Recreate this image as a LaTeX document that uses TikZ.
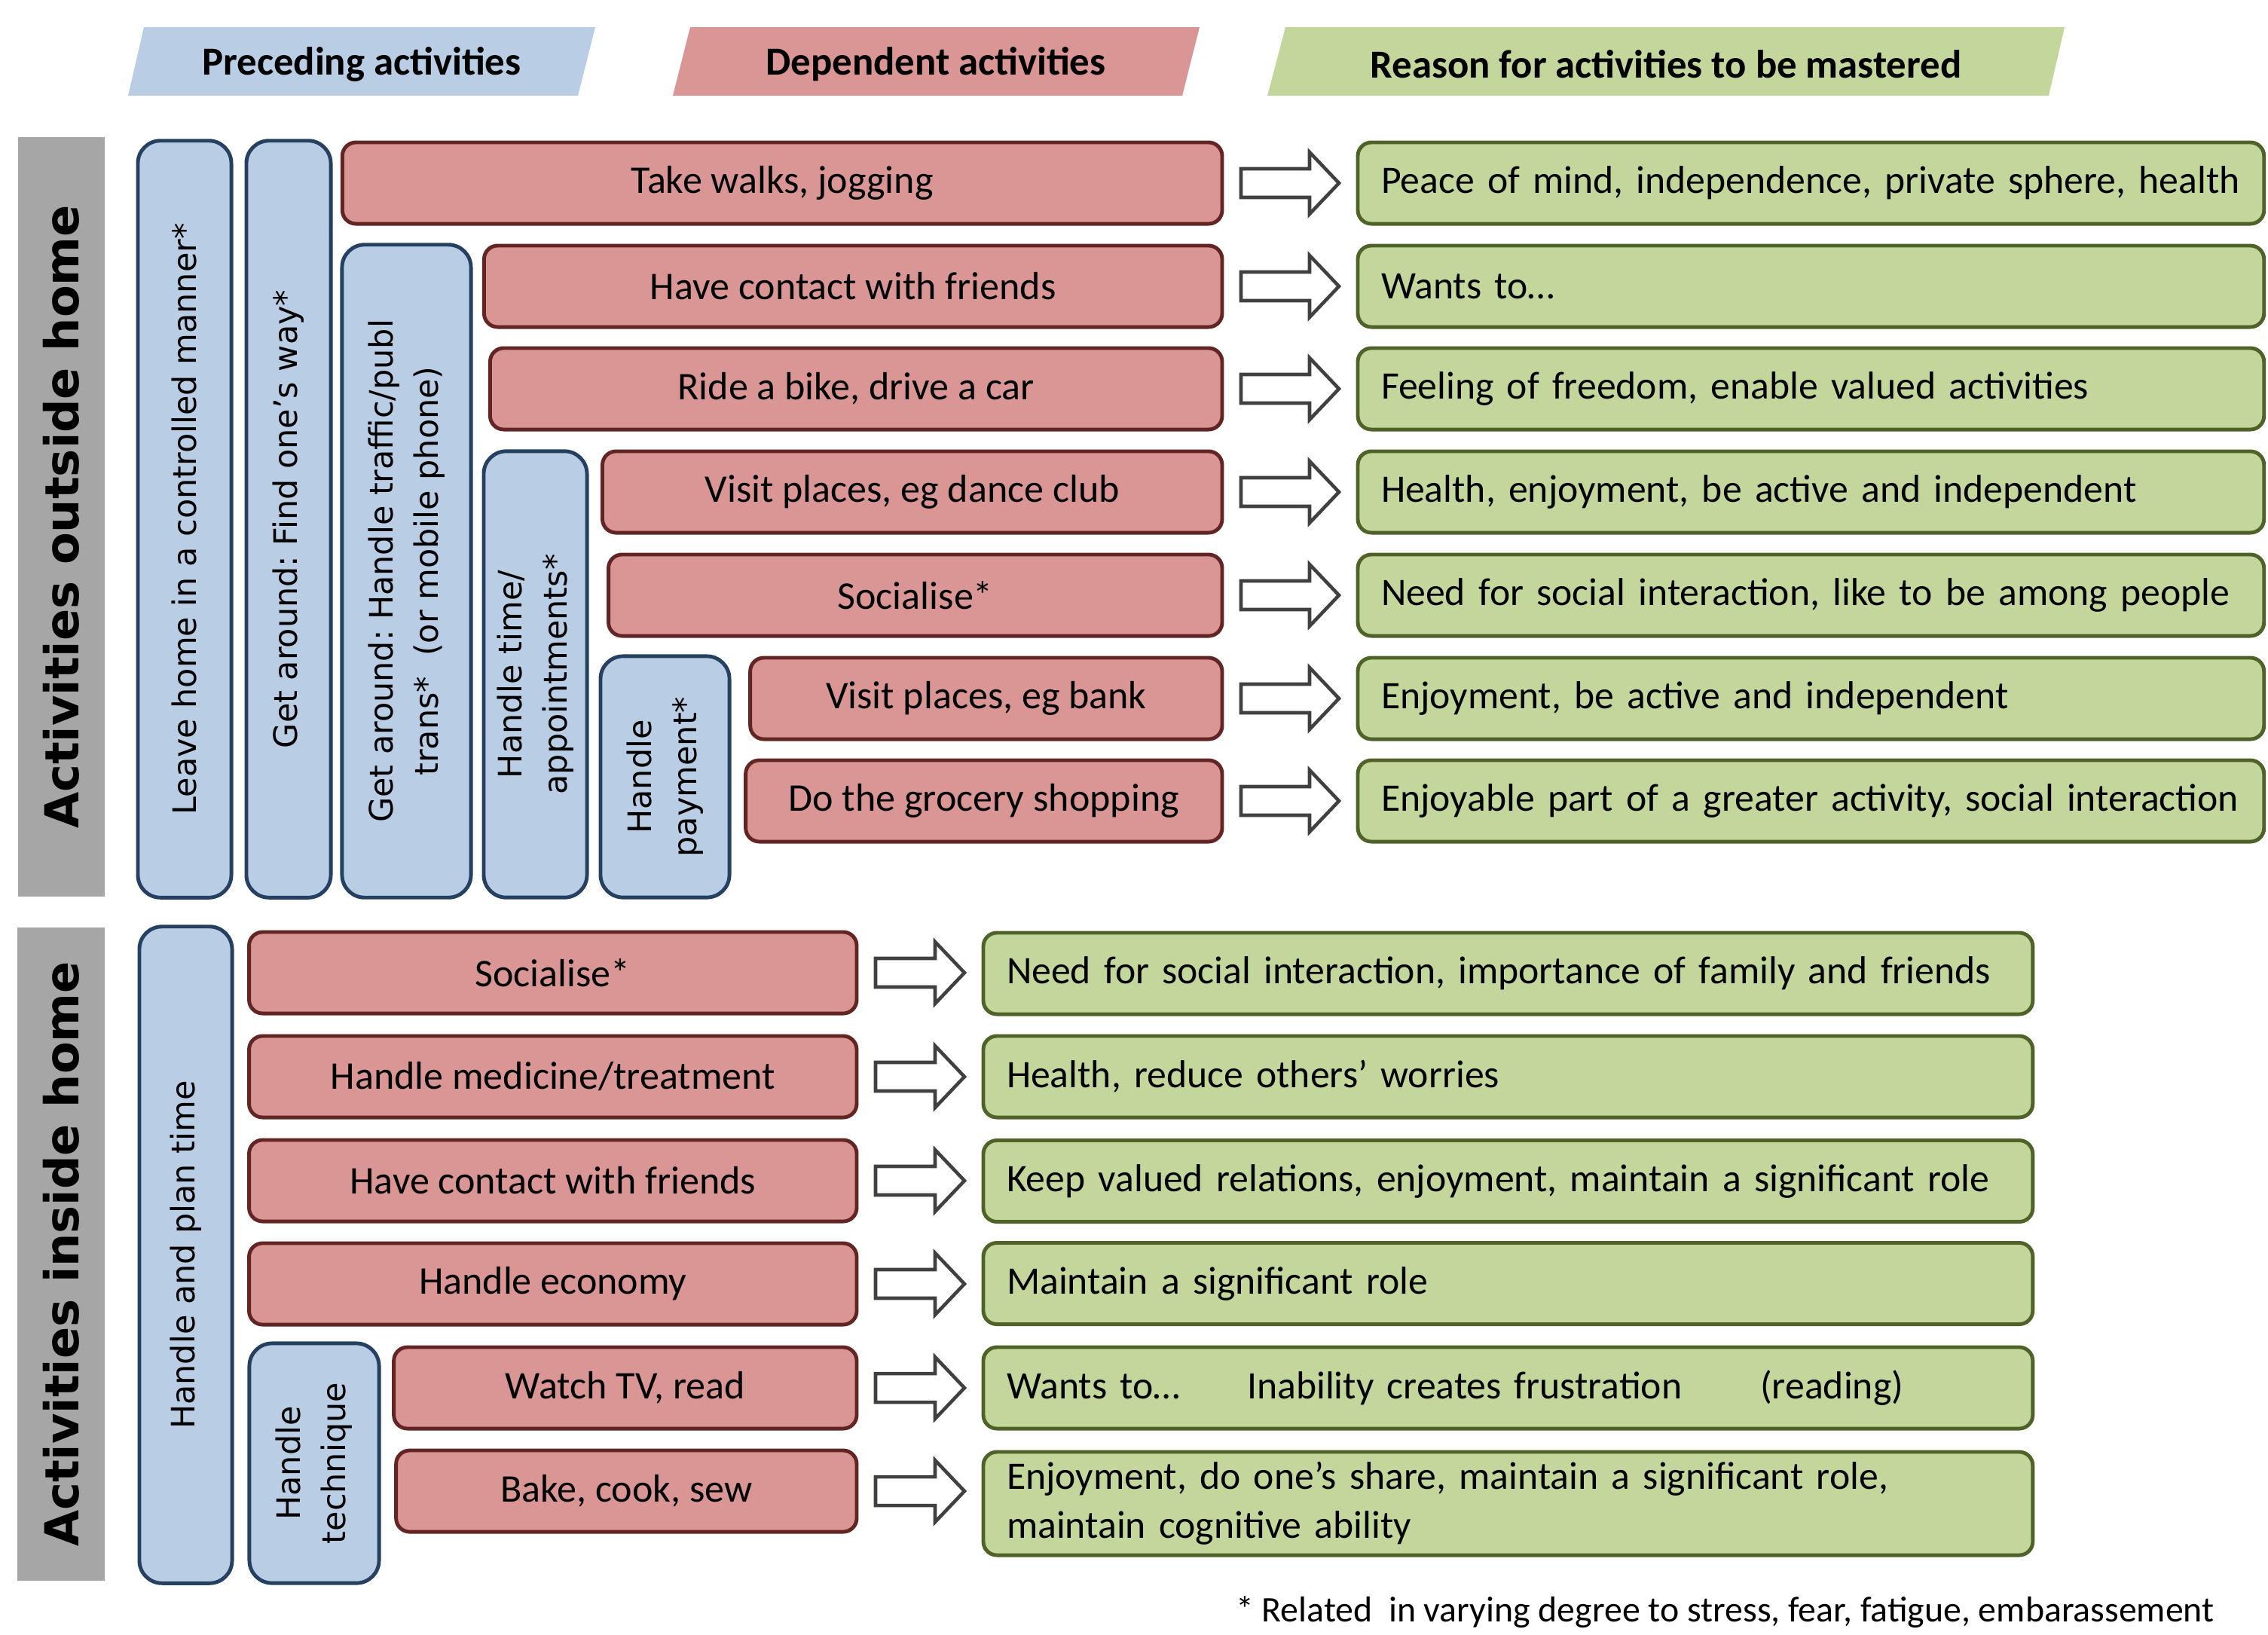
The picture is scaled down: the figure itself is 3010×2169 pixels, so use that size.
\documentclass[tikz,border=0pt]{standalone}
\usepackage{fontspec}
\setmainfont{Carlito}
\newfontfamily\verdface{DejaVu Sans}
\usetikzlibrary{calc,positioning}
\definecolor{precfill}{HTML}{B9CDE5}
\definecolor{precline}{HTML}{254061}
\definecolor{depfill}{HTML}{D99694}
\definecolor{depline}{HTML}{632523}
\definecolor{reasfill}{HTML}{C3D69B}
\definecolor{reasline}{HTML}{4F6228}
\definecolor{sidegrey}{HTML}{A6A6A6}
\definecolor{arrline}{HTML}{404040}
\frenchspacing

\begin{document}
\begin{tikzpicture}[x=0.01cm, y=-0.01cm,
    every node/.style={inner sep=0pt, outer sep=0pt},
    headtxt/.style={font=\fontsize{15}{18}\selectfont\bfseries},
    sidelab/.style={fill=sidegrey, rotate=90, font=\verdface\fontsize{17.7}{21}\selectfont\bfseries},
    prec/.style={draw=precline, fill=precfill, line width=1.4pt, rounded corners=0.3cm, rotate=90, align=center, font=\verdface\fontsize{12.2}{17}\selectfont},
    dep/.style={draw=depline, fill=depfill, line width=1.4pt, rounded corners=0.18cm, anchor=east, minimum height=1.08cm, minimum width=#1, font=\fontsize{14.8}{17.8}\selectfont},
    reas/.style={draw=reasline, fill=reasfill, line width=1.4pt, rounded corners=0.18cm, anchor=west, minimum height=1.08cm, text width=#1, inner xsep=0.31cm, align=left, font=\fontsize{14.7}{18.5}\selectfont},
    blockarr/.style={draw=arrline, fill=white, line width=1.3pt, line join=miter}]
  \useasboundingbox (0,0) rectangle (3010,2169);

  % column headers
  \fill[precfill] (170,127) -- (191,36) -- (790,36) -- (767,127) -- cycle;
  \node[headtxt] (hprec) at (480,85) {Preceding activities};
  \fill[depfill] (893,127) -- (916,36) -- (1592,36) -- (1569,127) -- cycle;
  \node[headtxt] (hdep) at (1242,85) {Dependent activities};
  \fill[reasfill] (1682,127) -- (1706,36) -- (2740,36) -- (2719,127) -- cycle;
  \node[headtxt] (hreas) at (2211,85) {Reason for activities to be mastered};

  % side labels
  \node[sidelab, minimum width=10.08cm, minimum height=1.15cm] (outlab) at (81.5,686) {Activities outside home};
  \node[sidelab, minimum width=8.67cm, minimum height=1.16cm] (inlab) at (81,1664.5) {Activities inside home};

  % preceding activities
  \node[prec, minimum width=10.04cm, minimum height=1.24cm] (pre1) at (245,689) {Leave home in a controlled manner*};
  \node[prec, minimum width=10.04cm, minimum height=1.12cm] (pre2) at (383,689) {Get around: Find one’s way*};
  \node[prec, minimum width=8.66cm, minimum height=1.71cm] (pre3) at (539.5,758) {Get around: Handle traffic/publ\\trans*\ \ (or mobile phone)};
  \node[prec, minimum width=5.92cm, minimum height=1.37cm] (pre4) at (710.5,895) {Handle time/\\appointments*};
  \node[prec, minimum width=3.20cm, minimum height=1.71cm] (pre5) at (882.5,1031) {Handle\\payment*};
  \node[prec, minimum width=8.71cm, minimum height=1.23cm] (pre6) at (246.5,1665.5) {Handle and plan time};
  \node[prec, minimum width=3.18cm, minimum height=1.72cm] (pre7) at (417,1942) {Handle\\technique};

  % dependent activities, outside home
  \node[dep=11.67cm] (dep1) at (1622,243) {Take walks, jogging};
  \node[dep=9.79cm] (dep2) at (1622,380) {Have contact with friends};
  \node[dep=9.71cm] (dep3) at (1622,516) {Ride a bike, drive a car};
  \node[dep=8.22cm] (dep4) at (1622,653) {Visit places, eg dance club};
  \node[dep=8.14cm] (dep5) at (1622,790) {Socialise*};
  \node[dep=6.26cm] (dep6) at (1622,927) {Visit places, eg bank};
  \node[dep=6.32cm] (dep7) at (1622,1063) {Do the grocery shopping};
  % dependent activities, inside home
  \node[dep=8.06cm] (dep8) at (1137,1291) {Socialise*};
  \node[dep=8.06cm] (dep9) at (1137,1429) {Handle medicine/treatment};
  \node[dep=8.06cm] (dep10) at (1137,1567) {Have contact with friends};
  \node[dep=8.06cm] (dep11) at (1137,1704) {Handle economy};
  \node[dep=6.14cm] (dep12) at (1137,1842) {Watch TV, read};
  \node[dep=6.11cm] (dep13) at (1137,1979) {Bake, cook, sew};

  % reasons
  \node[reas=11.4cm] (why1) at (1802,243) {Peace of mind, independence, private sphere, health};
  \node[reas=11.4cm] (why2) at (1802,380) {Wants to…};
  \node[reas=11.4cm] (why3) at (1802,516) {Feeling of freedom, enable valued activities};
  \node[reas=11.4cm] (why4) at (1802,653) {Health, enjoyment, be active and independent};
  \node[reas=11.4cm] (why5) at (1802,790) {Need for social interaction, like to be among people};
  \node[reas=11.4cm] (why6) at (1802,927) {Enjoyment, be active and independent};
  \node[reas=11.4cm] (why7) at (1802,1063) {Enjoyable part of a greater activity, social interaction};
  \node[reas=13.30cm] (why8) at (1305,1292) {Need for social interaction, importance of family and friends};
  \node[reas=13.30cm] (why9) at (1305,1429) {Health, reduce others’ worries};
  \node[reas=13.30cm] (why10) at (1305,1567.5) {Keep valued relations, enjoyment, maintain a significant role};
  \node[reas=13.30cm] (why11) at (1305,1703.5) {Maintain a significant role};
  \node[reas=13.30cm] (why12) at (1305,1842) {Wants to…\hspace{0.89cm}Inability creates frustration\hspace{1.04cm}(reading)};
  \node[reas=13.30cm, minimum height=1.37cm] (why13) at (1305,1995.5) {Enjoyment, do one’s share, maintain a significant role,\\maintain cognitive ability};

  % block arrows
  \foreach \i in {1,...,13}
    \draw[blockarr] ($(dep\i.east)+(25,-19)$) -- ($(why\i.west|-dep\i.east)+(-64,-19)$)
      -- ($(why\i.west|-dep\i.east)+(-64,-41)$) -- ($(why\i.west|-dep\i.east)+(-25,0)$)
      -- ($(why\i.west|-dep\i.east)+(-64,41)$) -- ($(why\i.west|-dep\i.east)+(-64,19)$)
      -- ($(dep\i.east)+(25,19)$) -- cycle;

  \node[anchor=base west, font=\fontsize{13.6}{16}\selectfont] (note) at (1640,2152) {* Related\ \ in varying degree to stress, fear, fatigue, embarassement};
\end{tikzpicture}
\end{document}
